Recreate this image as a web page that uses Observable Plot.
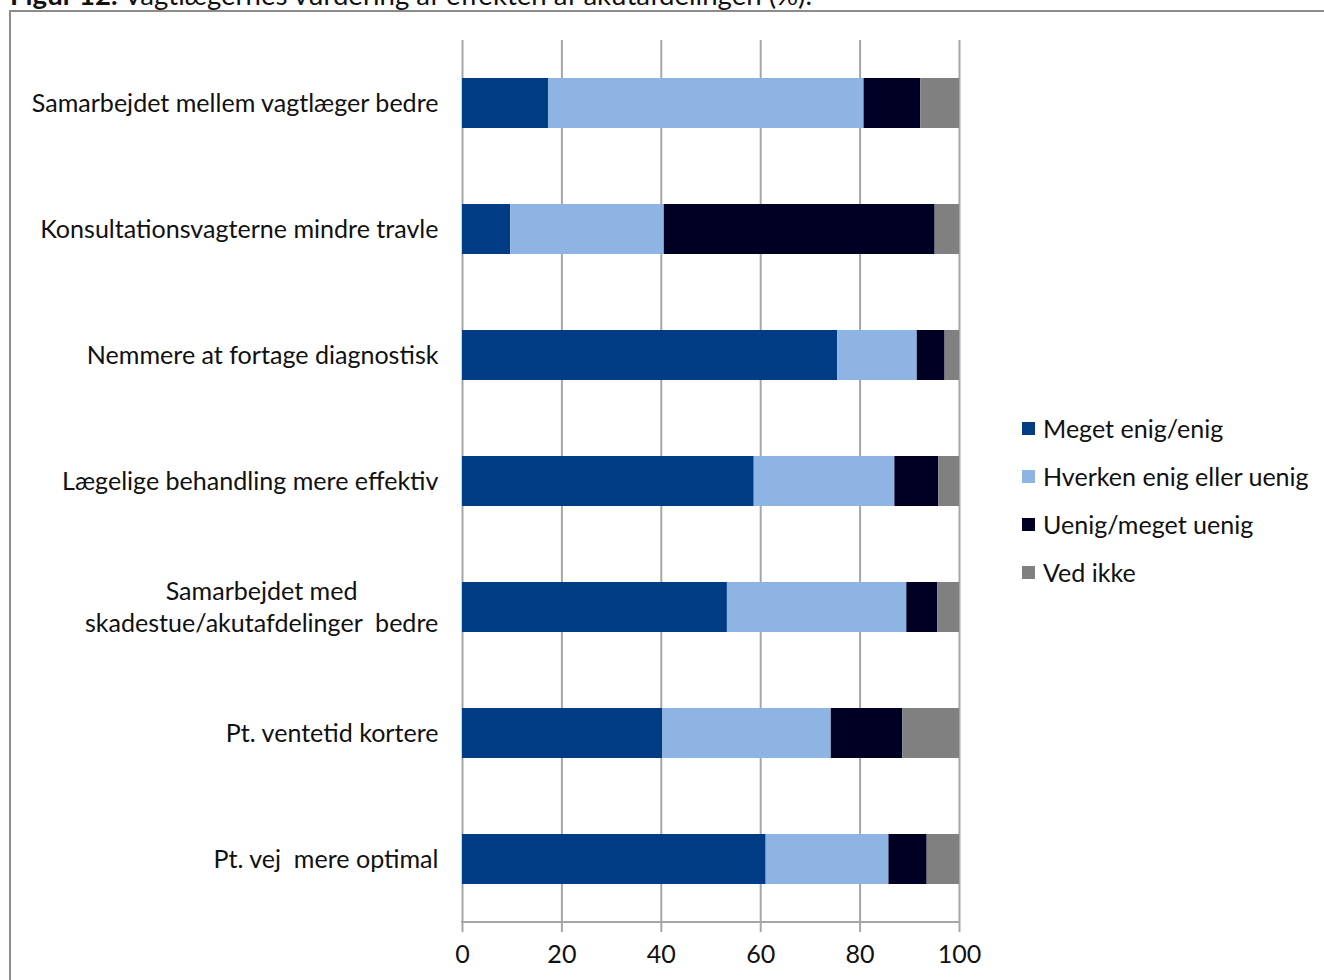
<!DOCTYPE html>
<html>
<head>
<meta charset="utf-8">
<script src="https://cdn.jsdelivr.net/npm/d3@7"></script>
<script src="https://cdn.jsdelivr.net/npm/@observablehq/plot@0.6"></script>
<style>
  html, body { margin: 0; padding: 0; background: #fff; }
  #wrap { position: relative; width: 1324px; height: 980px; overflow: hidden; background: #fff; }
  #frame { position: absolute; left: 9px; top: 10px; width: 2000px; height: 2000px; border: 2px solid #8c8c8c; box-sizing: border-box; }
  #title { position: absolute; left: 10px; top: -22px; white-space: pre; font-family: Lato, sans-serif; color: #111; }
  #chart { position: absolute; left: 0; top: 0; }
  #chart svg text { white-space: pre; }
  #legend { position: absolute; left: 1022px; top: 404px; font-family: Lato, sans-serif; color: #111; }
  .row { display: flex; align-items: center; height: 48px; white-space: pre; }
  .sw { width: 13px; height: 13px; margin-right: 8px; flex: none; }
</style>
</head>
<body>
<div id="wrap">
  <div id="frame"></div>
  <div id="title"></div>
  <div id="chart"></div>
  <div id="legend"></div>
</div>
<script>
const categories = [
  "Samarbejdet mellem vagtlæger bedre",
  "Konsultationsvagterne mindre travle",
  "Nemmere at fortage diagnostisk",
  "Lægelige behandling mere effektiv",
  "Samarbejdet med\nskadestue/akutafdelinger  bedre",
  "Pt. ventetid kortere",
  "Pt. vej  mere optimal"
];
const series = ["Meget enig/enig", "Hverken enig eller uenig", "Uenig/meget uenig", "Ved ikke"];
const megetEnig = [17.3, 9.7, 75.5, 58.7, 53.3, 40.3, 61.1];
const hverken   = [63.5, 30.9, 16.0, 28.3, 36.1, 33.9, 24.7];
const uenig     = [11.4, 54.5, 5.6, 8.8, 6.2, 14.4, 7.7];
const vedIkke   = [7.8, 4.9, 2.9, 4.2, 4.4, 11.4, 6.5];
const xTicks = [0, 20, 40, 60, 80, 100];
const colors = ["#003c84", "#8eb4e3", "#000025", "#808080"];
const titleBold = "Figur 12.";
const titleRest = " Vagtlægernes vurdering af effekten af akutafdelingen (%).";

const seriesValues = [megetEnig, hverken, uenig, vedIkke];
const data = [];
categories.forEach((c, i) => {
  series.forEach((s, j) => data.push({cat: c, series: s, value: seriesValues[j][i]}));
});

const fontFamily = "Lato";
const ctx = document.createElement("canvas").getContext("2d");
ctx.font = `100px ${fontFamily}`;
const fs = 100 * 408 / ctx.measureText(categories[0]).width;

const multi = categories.filter(c => c.includes("\n"));
const longestLine = (c) => Math.max(...c.split("\n").map(l => { ctx.font = `${fs}px ${fontFamily}`; return ctx.measureText(l).width; }));
const pad = 24;

const chart = Plot.plot({
  width: 1324,
  height: 980,
  marginLeft: 462,
  marginRight: 365,
  marginTop: 40,
  marginBottom: 58,
  style: {fontFamily, fontSize: fs + "px", background: "transparent", color: "#111"},
  x: {domain: [0, 100], ticks: xTicks},
  y: {domain: categories, paddingInner: 0.6, paddingOuter: 0.3},
  color: {domain: series, range: colors},
  marks: [
    Plot.ruleX(xTicks, {stroke: "#a6a6a6", strokeWidth: 2}),
    Plot.barX(data, {x: "value", y: "cat", fill: "series"}),
    Plot.axisX({ticks: xTicks, tickSize: 10, tickPadding: 13, stroke: "#a6a6a6", strokeWidth: 2, fill: "#111", fontSize: fs, label: null}),
    Plot.axisY({tickSize: 0, tickPadding: pad, tickFormat: d => d.includes("\n") ? "" : d, fill: "#111", fontSize: fs, label: null}),
    ...multi.map(c => Plot.text([c], {y: d => d, text: d => d, frameAnchor: "left", textAnchor: "middle", dx: -(pad + longestLine(c) / 2), dy: -2, lineHeight: 32 / fs, fill: "#111", fontSize: fs}))
  ]
});

const xs = chart.scale("x");
const yr = chart.scale("y").range;
const yb = Math.max(...yr);
d3.select(chart).append("line")
  .attr("x1", xs.apply(0) - 1).attr("x2", xs.apply(100) + 1)
  .attr("y1", yb).attr("y2", yb)
  .attr("stroke", "#a6a6a6").attr("stroke-width", 2);

document.getElementById("chart").appendChild(chart);

const t = document.getElementById("title");
t.style.fontSize = (fs * 1.1) + "px";
const b = document.createElement("b");
b.textContent = titleBold;
t.appendChild(b);
t.appendChild(document.createTextNode(titleRest));

const lg = document.getElementById("legend");
lg.style.fontSize = fs + "px";
series.forEach((s, i) => {
  const row = document.createElement("div");
  row.className = "row";
  const sw = document.createElement("div");
  sw.className = "sw";
  sw.style.background = colors[i];
  const tx = document.createElement("span");
  tx.textContent = s;
  row.appendChild(sw);
  row.appendChild(tx);
  lg.appendChild(row);
});
</script>
</body>
</html>
